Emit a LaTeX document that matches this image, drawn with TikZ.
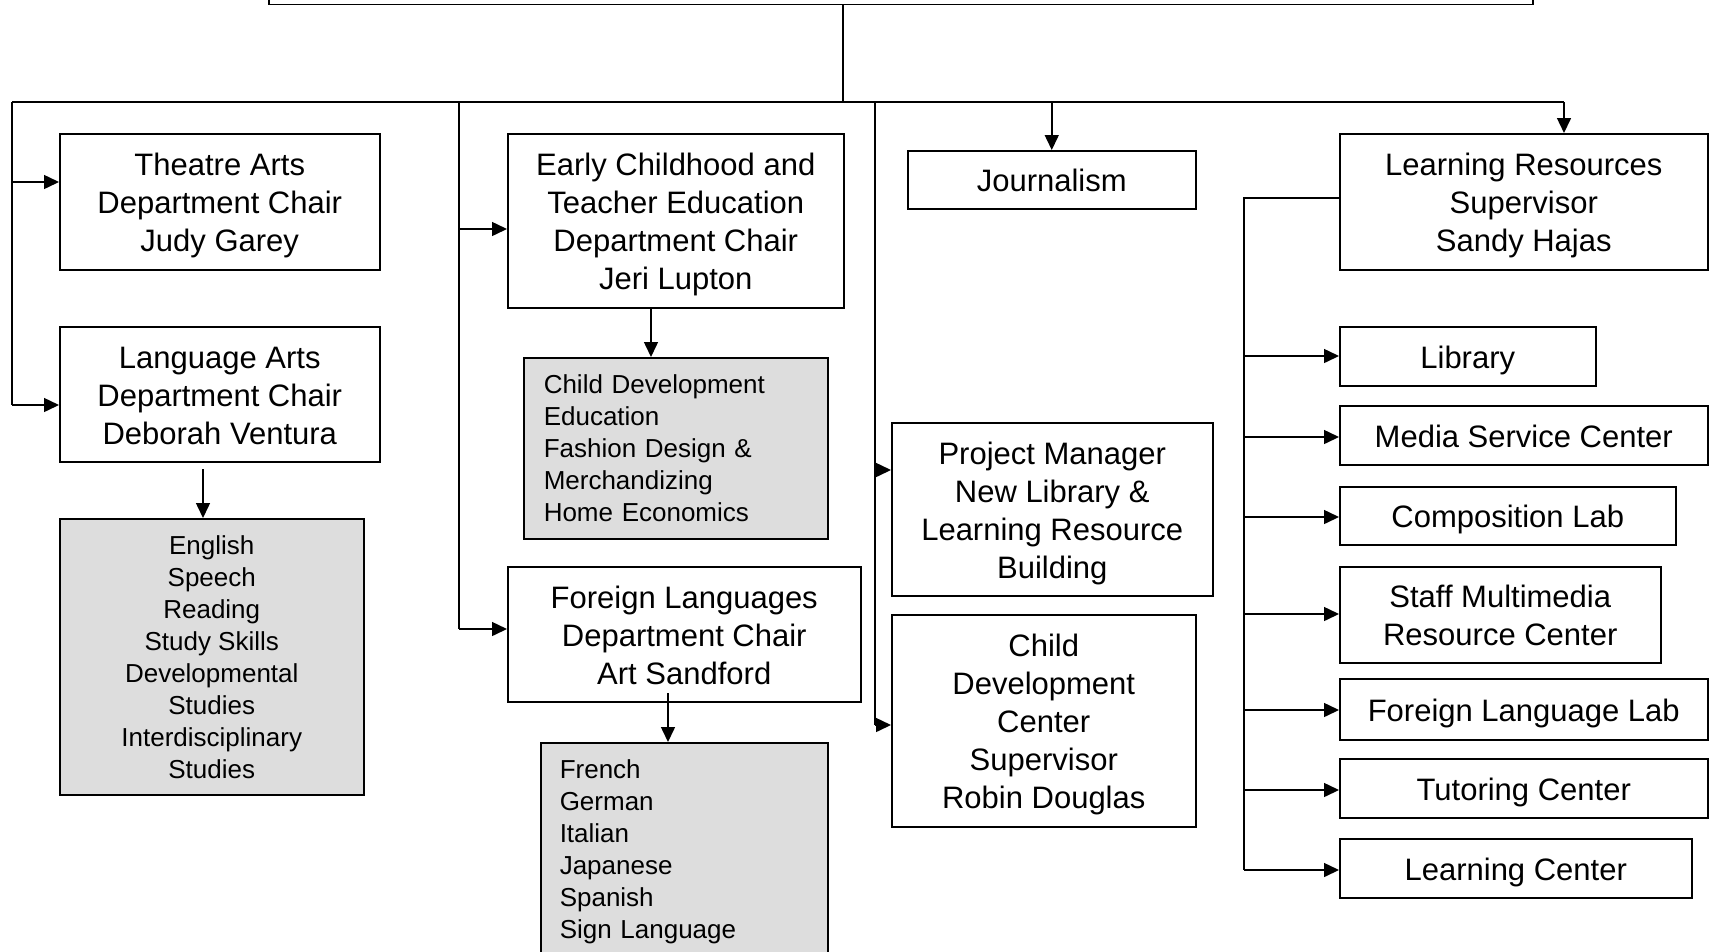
\documentclass[tikz,border=0pt]{standalone}
\usepackage{fontspec}
\setmainfont{Liberation Sans}
\usetikzlibrary{arrows.meta}
\definecolor{boxgray}{RGB}{221,221,221}
\newcommand{\boxtext}[1]{\raisebox{-4.5pt}[\height][\depth]{\begin{tabular}{@{}c@{}}#1\end{tabular}}}
\begin{document}
\begin{tikzpicture}[x=1pt,y=-1pt,
  box/.style={draw, line width=1.5pt, fill=white, inner sep=0pt, anchor=north west, align=center, font=\fontsize{31}{38}\selectfont},
  graybox/.style={box, fill=boxgray, font=\fontsize{26}{32}\selectfont},
  lgray/.style={graybox, align=left, inner xsep=20pt},
  arr/.style={line width=1.5pt, -{Triangle[length=15pt,width=14pt]}},
  ln/.style={line width=1.5pt}]
\useasboundingbox (0,0) rectangle (1713,951);
% top box
\node[draw, line width=1.5pt, minimum width=1264pt, minimum height=60pt, anchor=south west, inner sep=0pt] (top) at (268,5) {};
% column 1
\node[box, minimum width=320pt, minimum height=136pt] (theatre) at (59,133) {\boxtext{Theatre Arts\\Department Chair\\Judy Garey}};
\node[box, minimum width=320pt, minimum height=135pt] (lang) at (59,326) {\boxtext{Language Arts\\Department Chair\\Deborah Ventura}};
\node[graybox, minimum width=304pt, minimum height=276pt] (lagray) at (59,518) {English\\Speech\\Reading\\Study Skills\\Developmental\\Studies\\Interdisciplinary\\Studies};
% column 2
\node[box, minimum width=336pt, minimum height=174pt] (ec) at (507,133) {\boxtext{Early Childhood and\\Teacher Education\\Department Chair\\Jeri Lupton}};
\node[lgray, text width=264pt, minimum height=181pt] (ecgray) at (523,357) {Child Development\\Education\\Fashion Design \&\\Merchandizing\\Home Economics};
\node[box, minimum width=353pt, minimum height=135pt] (fl) at (507,566) {\boxtext{Foreign Languages\\Department Chair\\Art Sandford}};
\node[lgray, inner xsep=19pt, text width=249pt, minimum height=219pt] (flgray) at (540,742) {French\\German\\Italian\\Japanese\\Spanish\\Sign Language};
% column 3
\node[box, minimum width=288pt, minimum height=58pt] (journ) at (907,150) {\boxtext{Journalism}};
\node[box, minimum width=321pt, minimum height=173pt] (pm) at (891,422) {\boxtext{Project Manager\\New Library \&\\Learning Resource\\Building}};
\node[box, minimum width=304pt, minimum height=212pt] (cdc) at (891,614) {\boxtext{Child\\Development\\Center\\Supervisor\\Robin Douglas}};
% column 4
\node[box, minimum width=368pt, minimum height=136pt] (lr) at (1339,133) {\boxtext{Learning Resources\\Supervisor\\Sandy Hajas}};
\node[box, minimum width=256pt, minimum height=59pt] (lib) at (1339,326) {\boxtext{Library}};
\node[box, minimum width=368pt, minimum height=59pt] (media) at (1339,405) {\boxtext{Media Service Center}};
\node[box, minimum width=336pt, minimum height=58pt] (comp) at (1339,486) {\boxtext{Composition Lab}};
\node[box, minimum width=321pt, minimum height=96pt] (staff) at (1339,566) {\boxtext{Staff Multimedia\\Resource Center}};
\node[box, minimum width=368pt, minimum height=61pt] (fll) at (1339,678) {\boxtext{Foreign Language Lab}};
\node[box, minimum width=368pt, minimum height=59pt] (tut) at (1339,758) {\boxtext{Tutoring Center}};
\node[box, minimum width=352pt, minimum height=59pt] (lc) at (1339,838) {\boxtext{Learning Center}};
% bus
\coordinate (busL) at (12,102);
\coordinate (busR) at (1564,102);
\draw[ln] (top.south -| 843,0) -- (843,102);
\draw[ln] (busL) -- (busR);
% trunk 1
\coordinate (t1a) at (12,182);
\coordinate (t1b) at (12,405);
\draw[ln] (busL) -- (t1b);
\draw[arr] (t1a) -- (t1a -| theatre.west);
\draw[arr] (t1b) -- (t1b -| lang.west);
\coordinate (s1) at (203,469);
\draw[arr] (s1) -- (s1 |- lagray.north);
% trunk 2
\coordinate (t2) at (459,102);
\coordinate (t2a) at (459,229);
\coordinate (t2b) at (459,629);
\draw[ln] (t2) -- (t2b);
\draw[arr] (t2a) -- (t2a -| ec.west);
\draw[arr] (t2b) -- (t2b -| fl.west);
\coordinate (s2) at (651,307);
\draw[arr] (s2) -- (s2 |- ecgray.north);
\coordinate (s3) at (668,693);
\draw[arr] (s3) -- (s3 |- flgray.north);
% trunk 3
\coordinate (t3) at (875,102);
\coordinate (t3a) at (875,470);
\coordinate (t3b) at (875,725);
\draw[ln] (t3) -- (t3b);
\draw[arr] (t3a) -- (t3a -| pm.west);
\draw[arr] (t3b) -- (t3b -| cdc.west);
% journalism and LR
\draw[arr] (journ.north |- busL) -- (journ.north);
\draw[arr] (busR) -- (busR |- lr.north);
% LR trunk
\coordinate (lrj) at (1244,198);
\coordinate (lrb) at (1244,870);
\draw[ln] (lr.west |- lrj) -- (lrj) -- (lrb);
\foreach \y/\n in {356/lib, 437/media, 517/comp, 614/staff, 710/fll, 790/tut, 870/lc}{
  \coordinate (q) at (1244,\y);
  \draw[arr] (q) -- (q -| \n.west);
}
\end{tikzpicture}
\end{document}
